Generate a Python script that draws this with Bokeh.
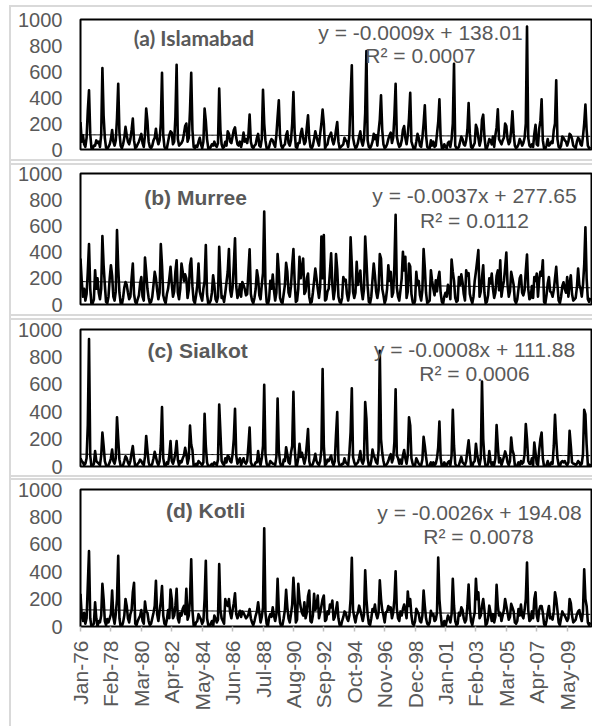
import math
import numpy as np
import pandas as pd
from bokeh.plotting import figure
from bokeh.layouts import column
from bokeh.models import Range1d, FixedTicker, Label
from bokeh.embed import file_html
from bokeh.resources import INLINE

# ---------------- data (monthly precipitation, mm; one row per year, Jan..Dec) ----------------
start_year = 1976

tick_labels = ["Jan-76", "Feb-78", "Mar-80", "Apr-82", "May-84", "Jun-86", "Jul-88", "Aug-90",
               "Sep-92", "Oct-94", "Nov-96", "Dec-98", "Jan-01", "Feb-03", "Mar-05", "Apr-07", "May-09"]
y_ticks = [0, 200, 400, 600, 800, 1000]

islamabad = [
    [210, 60, 110, 40, 20, 90, 300, 455, 120, 10, 5, 30],
    [30, 70, 50, 60, 20, 110, 627, 260, 90, 15, 5, 20],
    [40, 80, 150, 60, 30, 70, 240, 506, 130, 30, 10, 40],
    [90, 174, 110, 60, 40, 80, 150, 238, 70, 10, 20, 40],
    [60, 90, 120, 50, 20, 110, 315, 220, 60, 20, 10, 30],
    [70, 90, 160, 80, 40, 70, 200, 590, 110, 20, 5, 10],
    [60, 110, 140, 130, 40, 60, 250, 652, 80, 30, 40, 50],
    [70, 120, 180, 200, 60, 90, 300, 590, 150, 20, 10, 30],
    [20, 60, 90, 40, 10, 60, 315, 220, 80, 10, 0, 20],
    [40, 30, 60, 30, 20, 50, 468, 150, 40, 10, 20, 60],
    [30, 140, 120, 60, 50, 100, 150, 170, 90, 40, 30, 60],
    [20, 60, 130, 60, 80, 50, 110, 268, 60, 20, 10, 30],
    [40, 90, 120, 30, 20, 80, 460, 200, 70, 10, 0, 20],
    [60, 80, 70, 40, 20, 110, 250, 378, 100, 30, 10, 30],
    [40, 110, 140, 50, 30, 70, 200, 442, 140, 20, 10, 50],
    [50, 120, 160, 90, 40, 60, 170, 263, 90, 20, 10, 30],
    [80, 140, 100, 60, 30, 120, 200, 307, 200, 10, 30, 40],
    [90, 110, 130, 70, 40, 80, 150, 212, 60, 10, 20, 30],
    [40, 90, 70, 60, 20, 110, 400, 647, 90, 40, 10, 20],
    [50, 100, 140, 60, 30, 80, 280, 757, 70, 20, 10, 30],
    [60, 120, 80, 110, 30, 140, 230, 417, 150, 40, 10, 20],
    [40, 80, 110, 130, 50, 90, 260, 506, 100, 50, 20, 30],
    [70, 150, 180, 90, 40, 110, 240, 437, 60, 30, 0, 10],
    [60, 120, 90, 30, 20, 90, 200, 340, 110, 20, 10, 10],
    [70, 30, 60, 20, 30, 120, 210, 386, 90, 10, 5, 40],
    [20, 10, 50, 60, 20, 80, 200, 660, 30, 10, 10, 20],
    [60, 100, 80, 40, 30, 70, 150, 358, 120, 20, 10, 30],
    [50, 190, 160, 90, 30, 70, 230, 268, 100, 10, 10, 40],
    [80, 70, 40, 100, 20, 110, 170, 309, 80, 60, 40, 70],
    [90, 200, 180, 80, 40, 60, 150, 294, 120, 30, 10, 20],
    [40, 80, 60, 30, 50, 90, 200, 946, 90, 30, 20, 40],
    [20, 120, 190, 40, 30, 160, 220, 386, 70, 10, 5, 30],
    [80, 30, 40, 60, 50, 150, 200, 532, 80, 20, 10, 30],
    [100, 90, 70, 60, 30, 60, 120, 110, 80, 30, 20, 10],
    [60, 90, 80, 40, 30, 100, 200, 345, 150, 30, 10, 20],
]

murree = [
    [351, 180, 60, 120, 30, 80, 250, 462, 120, 5, 10, 40],
    [262, 120, 200, 90, 40, 120, 523, 300, 150, 20, 10, 60],
    [200, 300, 220, 60, 30, 100, 569, 280, 90, 10, 0, 50],
    [130, 172, 150, 90, 40, 60, 200, 313, 80, 20, 5, 40],
    [70, 160, 210, 60, 30, 359, 250, 120, 50, 10, 20, 60],
    [150, 249, 200, 110, 40, 90, 462, 300, 70, 30, 10, 80],
    [120, 200, 287, 160, 60, 100, 250, 338, 90, 40, 120, 313],
    [250, 180, 230, 200, 50, 110, 300, 351, 140, 30, 10, 70],
    [150, 313, 100, 60, 30, 120, 180, 454, 80, 5, 10, 30],
    [90, 223, 150, 40, 20, 60, 441, 200, 50, 60, 20, 90],
    [170, 250, 423, 110, 60, 130, 300, 505, 140, 50, 80, 150],
    [60, 172, 150, 120, 70, 80, 250, 421, 80, 30, 10, 50],
    [120, 262, 200, 70, 40, 150, 240, 710, 160, 20, 0, 40],
    [180, 120, 228, 110, 30, 90, 385, 250, 50, 20, 10, 80],
    [150, 318, 250, 90, 60, 140, 300, 423, 180, 20, 30, 120],
    [364, 200, 280, 351, 80, 100, 200, 236, 60, 10, 20, 90],
    [180, 274, 200, 120, 50, 130, 518, 200, 531, 30, 40, 100],
    [120, 250, 390, 150, 40, 110, 385, 270, 60, 20, 10, 50],
    [210, 180, 190, 80, 30, 90, 513, 300, 100, 50, 90, 326],
    [150, 200, 260, 110, 40, 120, 518, 340, 140, 20, 10, 60],
    [190, 313, 220, 100, 50, 110, 385, 350, 120, 70, 10, 40],
    [120, 300, 180, 250, 60, 90, 300, 685, 130, 60, 30, 110],
    [200, 403, 260, 364, 50, 100, 313, 290, 80, 20, 0, 30],
    [249, 150, 180, 70, 30, 110, 423, 280, 90, 10, 20, 30],
    [262, 180, 120, 70, 185, 100, 200, 250, 90, 20, 5, 60],
    [90, 60, 150, 110, 40, 344, 250, 180, 50, 20, 30, 210],
    [150, 230, 170, 80, 30, 262, 220, 240, 80, 40, 10, 60],
    [180, 250, 330, 415, 60, 100, 210, 300, 90, 10, 20, 70],
    [200, 160, 236, 120, 50, 90, 220, 260, 110, 338, 60, 130],
    [180, 280, 397, 150, 60, 100, 249, 200, 150, 30, 10, 40],
    [120, 200, 223, 90, 70, 110, 260, 382, 120, 40, 50, 140],
    [50, 210, 180, 236, 60, 190, 250, 220, 338, 20, 5, 70],
    [160, 210, 100, 90, 60, 110, 200, 287, 150, 30, 10, 60],
    [140, 170, 120, 90, 210, 60, 160, 223, 80, 30, 40, 50],
    [130, 274, 150, 120, 60, 150, 300, 590, 200, 40, 20, 50],
]

sialkot = [
    [60, 40, 30, 10, 20, 60, 300, 930, 80, 0, 5, 20],
    [112, 40, 30, 20, 10, 80, 248, 150, 40, 10, 0, 10],
    [30, 60, 124, 40, 20, 60, 360, 200, 50, 5, 0, 10],
    [40, 75, 60, 30, 10, 40, 100, 149, 60, 0, 0, 20],
    [30, 50, 40, 20, 10, 70, 223, 120, 30, 0, 5, 20],
    [60, 107, 70, 30, 10, 40, 150, 434, 60, 10, 0, 30],
    [20, 80, 186, 40, 20, 50, 100, 186, 50, 10, 40, 30],
    [60, 80, 136, 90, 20, 60, 298, 160, 120, 5, 0, 20],
    [10, 40, 30, 20, 10, 30, 385, 150, 30, 0, 0, 10],
    [20, 10, 30, 20, 10, 50, 452, 250, 40, 20, 10, 60],
    [30, 80, 70, 40, 30, 90, 200, 422, 80, 20, 40, 60],
    [10, 40, 60, 30, 20, 40, 150, 285, 30, 10, 0, 10],
    [30, 30, 112, 40, 10, 60, 150, 596, 90, 20, 0, 10],
    [40, 30, 20, 20, 10, 70, 496, 120, 30, 0, 0, 50],
    [40, 141, 90, 30, 20, 100, 150, 546, 140, 10, 10, 60],
    [166, 70, 100, 60, 20, 60, 160, 273, 40, 0, 0, 20],
    [50, 92, 40, 20, 10, 40, 120, 712, 150, 10, 20, 50],
    [40, 60, 80, 30, 10, 40, 230, 397, 40, 5, 0, 20],
    [20, 60, 30, 20, 10, 100, 250, 571, 70, 30, 10, 20],
    [30, 60, 112, 40, 20, 50, 471, 350, 60, 5, 0, 40],
    [124, 80, 60, 30, 20, 120, 844, 200, 100, 40, 0, 10],
    [20, 40, 70, 90, 30, 60, 180, 563, 80, 60, 20, 50],
    [20, 80, 120, 60, 20, 80, 360, 300, 60, 20, 0, 10],
    [60, 40, 20, 10, 10, 50, 216, 150, 70, 5, 0, 10],
    [30, 10, 30, 10, 20, 60, 140, 328, 60, 0, 0, 30],
    [10, 10, 30, 40, 10, 80, 414, 150, 20, 0, 0, 10],
    [40, 70, 30, 20, 10, 40, 120, 191, 90, 10, 0, 30],
    [40, 166, 90, 40, 10, 60, 620, 200, 60, 0, 0, 20],
    [112, 40, 10, 30, 10, 60, 303, 150, 30, 60, 10, 40],
    [70, 110, 80, 30, 10, 40, 211, 120, 90, 10, 0, 10],
    [30, 10, 40, 20, 30, 90, 310, 199, 40, 20, 20, 60],
    [10, 174, 100, 20, 10, 120, 200, 248, 60, 0, 0, 10],
    [40, 10, 10, 30, 20, 150, 377, 200, 60, 10, 0, 30],
    [40, 30, 40, 20, 10, 30, 261, 150, 30, 20, 20, 10],
    [20, 40, 30, 10, 20, 90, 414, 380, 160, 10, 0, 20],
]

kotli = [
    [238, 80, 40, 100, 20, 60, 300, 550, 60, 0, 10, 20],
    [177, 60, 0, 40, 30, 80, 312, 200, 40, 10, 54, 30],
    [60, 90, 263, 70, 20, 90, 200, 516, 60, 0, 0, 30],
    [80, 201, 150, 60, 30, 90, 120, 250, 319, 20, 10, 40],
    [60, 79, 120, 40, 20, 182, 110, 100, 40, 10, 20, 60],
    [100, 150, 334, 90, 40, 110, 180, 295, 80, 20, 10, 50],
    [120, 60, 270, 200, 60, 80, 150, 275, 60, 30, 100, 80],
    [130, 150, 90, 275, 50, 80, 200, 491, 120, 10, 0, 30],
    [40, 90, 70, 50, 20, 40, 200, 479, 60, 10, 0, 20],
    [40, 0, 80, 60, 30, 50, 455, 120, 60, 40, 20, 201],
    [160, 150, 201, 100, 60, 120, 170, 243, 90, 60, 90, 115],
    [70, 110, 100, 80, 60, 70, 90, 128, 60, 30, 10, 40],
    [80, 110, 177, 100, 30, 70, 140, 717, 100, 20, 0, 66],
    [90, 70, 140, 80, 40, 90, 349, 120, 30, 0, 10, 60],
    [120, 268, 140, 60, 30, 90, 160, 356, 200, 30, 50, 312],
    [200, 140, 100, 80, 177, 60, 100, 220, 263, 40, 30, 80],
    [238, 120, 150, 226, 60, 100, 150, 200, 226, 40, 50, 110],
    [90, 160, 140, 189, 50, 70, 120, 177, 60, 10, 0, 40],
    [70, 110, 100, 60, 40, 80, 200, 501, 120, 70, 30, 80],
    [100, 152, 120, 80, 40, 90, 410, 200, 90, 20, 10, 60],
    [128, 110, 160, 90, 60, 100, 337, 200, 120, 80, 30, 103],
    [110, 150, 120, 140, 60, 100, 200, 403, 130, 60, 40, 110],
    [80, 128, 160, 120, 60, 256, 150, 200, 80, 20, 10, 40],
    [130, 110, 90, 40, 30, 80, 263, 150, 60, 20, 10, 30],
    [115, 80, 90, 40, 50, 100, 504, 200, 90, 10, 0, 40],
    [0, 40, 80, 60, 30, 90, 349, 150, 40, 10, 20, 100],
    [80, 140, 120, 60, 30, 50, 150, 307, 120, 40, 10, 60],
    [100, 349, 200, 250, 60, 80, 150, 200, 120, 10, 20, 60],
    [152, 100, 40, 90, 30, 70, 305, 150, 80, 100, 40, 80],
    [120, 201, 150, 100, 50, 70, 165, 140, 110, 30, 20, 40],
    [128, 80, 160, 80, 60, 120, 200, 467, 120, 40, 50, 110],
    [60, 200, 250, 80, 40, 120, 150, 150, 100, 20, 0, 40],
    [100, 150, 60, 70, 50, 110, 250, 200, 120, 30, 10, 60],
    [110, 90, 80, 60, 40, 60, 201, 170, 80, 30, 40, 50],
    [90, 110, 120, 70, 40, 110, 418, 200, 150, 30, 10, 30],
]

station_titles = ["(a)  Islamabad", "(b)  Murree", "(c)  Sialkot", "(d)  Kotli"]
station_data = [islamabad, murree, sialkot, kotli]
trend_slopes = [-0.0009, -0.0037, -0.0008, -0.0026]
trend_intercepts = [138.01, 277.65, 111.88, 194.08]
r_squared = ["0.0007", "0.0112", "0.0006", "0.0078"]

# ---------------- styling / layout ----------------
GRAY_TXT = "#595959"
G = "#d9d9d9"
FONT = "Liberation Sans"
X_MAX = 420
FRAME_LEFT = 80      # screen x of plot-area left edge
FRAME_W = 511
EL_LEFT = 9
EL_W = 592 - EL_LEFT

# per panel: element top (screen), element height, min_border_top, frame height, panel-box edges
panel_geom = [
    dict(y0=5, h=157, top=14, fh=130,
         shadow=[f"inset 2px 0 0 0 {G}", "inset 0 -1px 0 0 #fff", f"inset 0 -3px 0 0 {G}",
                 f"inset 0 2px 0 0 {G}"]),
    dict(y0=162, h=155, top=11, fh=131,
         shadow=[f"inset 2px 0 0 0 {G}", "inset 0 1px 0 0 #fff", f"inset 0 3px 0 0 {G}",
                 "inset 0 -1px 0 0 #fff", f"inset 0 -3px 0 0 {G}"]),
    dict(y0=317, h=160, top=12, fh=137,
         shadow=[f"inset 2px 0 0 0 {G}", "inset 0 1px 0 0 #fff", f"inset 0 3px 0 0 {G}",
                 f"inset 0 -2px 0 0 {G}"]),
    dict(y0=477, h=249, top=12, fh=137,
         shadow=[f"inset 2px 0 0 0 {G}", "inset 0 1px 0 0 #fff", f"inset 0 3px 0 0 {G}"]),
]
# text positions (screen px): title centre, equation centre, R2 centre
text_pos = [
    dict(title=(196, 37), eq=(420, 32), r2=(420, 55), title_font="Lato"),
    dict(title=(198, 197), eq=(474, 195), r2=(474, 220), title_font=FONT),
    dict(title=(200, 350), eq=(474, 349), r2=(474, 373), title_font=FONT),
    dict(title=(208, 510), eq=(479, 512), r2=(478, 536), title_font=FONT),
]

months = pd.date_range(f"{start_year}-01-01", periods=len(islamabad) * 12, freq="MS")
m_idx = np.arange(len(months))
excel_serial = (months - pd.Timestamp("1899-12-30")).days.to_numpy()

tick_dates = pd.to_datetime(tick_labels, format="%b-%y")
tick_pos = [int((d.year - start_year) * 12 + d.month - 1) for d in tick_dates]

figs = []
for i in range(4):
    g = panel_geom[i]
    bottom_border = g["h"] - g["top"] - g["fh"]
    styles = {
        "margin-left": f"{EL_LEFT}px",
        "box-shadow": ", ".join(g["shadow"]),
    }
    if i == 0:
        styles["margin-top"] = f"{g['y0']}px"
    p = figure(width=EL_W, height=g["h"], x_range=Range1d(0, X_MAX), y_range=Range1d(0, 1000),
               toolbar_location=None, tools="", output_backend="svg",
               min_border_left=FRAME_LEFT - EL_LEFT, min_border_right=EL_W - (FRAME_LEFT - EL_LEFT) - FRAME_W,
               min_border_top=g["top"], min_border_bottom=bottom_border,
               x_axis_location="below" if i == 3 else None, styles=styles)
    p.background_fill_color = "white"
    p.border_fill_color = None
    p.outline_line_color = "black"
    p.outline_line_width = 2
    p.xgrid.visible = False
    p.ygrid.visible = False

    ya = p.yaxis[0]
    ya.ticker = FixedTicker(ticks=y_ticks)
    ya.major_tick_out = 0
    ya.major_tick_in = 0
    ya.minor_tick_out = 0
    ya.minor_tick_in = 0
    ya.axis_line_color = None
    ya.major_label_standoff = 18
    ya.major_label_text_color = GRAY_TXT
    ya.major_label_text_font = FONT
    ya.major_label_text_font_size = "20px"

    if i == 3:
        xa = p.xaxis[0]
        xa.ticker = FixedTicker(ticks=tick_pos)
        xa.major_label_overrides = {pos: lab for pos, lab in zip(tick_pos, tick_labels)}
        xa.major_label_orientation = math.pi / 2
        xa.major_tick_out = 5
        xa.major_tick_in = 0
        xa.minor_tick_out = 0
        xa.minor_tick_in = 0
        xa.major_tick_line_color = "#bfbfbf"
        xa.major_tick_line_width = 1.5
        xa.axis_line_color = None
        xa.major_label_standoff = 9
        xa.major_label_text_color = GRAY_TXT
        xa.major_label_text_font = FONT
        xa.major_label_text_font_size = "21px"

    values = np.array(station_data[i], dtype=float).ravel()
    trend = trend_intercepts[i] + trend_slopes[i] * excel_serial
    p.line(m_idx, values, line_color="black", line_width=2.6, line_join="round")
    p.line(m_idx, trend, line_color="black", line_width=1)

    frame_top = g["y0"] + g["top"]
    frame_bottom = frame_top + g["fh"]

    def to_data(px, py, fb=frame_bottom, fh=g["fh"]):
        return ((px - FRAME_LEFT) / FRAME_W * X_MAX, (fb - py) / fh * 1000)

    tp = text_pos[i]
    tx, ty = to_data(*tp["title"])
    p.add_layout(Label(x=tx, y=ty, text=station_titles[i], text_align="center", text_baseline="middle",
                       text_font=tp["title_font"], text_font_style="bold", text_font_size="21px",
                       text_color=GRAY_TXT))
    eq_text = f"y = {trend_slopes[i]}x + {trend_intercepts[i]:.2f}"
    ex, ey = to_data(*tp["eq"])
    p.add_layout(Label(x=ex, y=ey, text=eq_text, text_align="center", text_baseline="middle",
                       text_font=FONT, text_font_size="21px", text_color=GRAY_TXT))
    rx, ry = to_data(*tp["r2"])
    p.add_layout(Label(x=rx, y=ry, text=f"R\u00b2 = {r_squared[i]}", text_align="center",
                       text_baseline="middle", text_font=FONT, text_font_size="21px", text_color=GRAY_TXT))

    figs.append(p)

layout = column(*figs, spacing=0)
open("out.html", "w").write(file_html(layout, INLINE))
